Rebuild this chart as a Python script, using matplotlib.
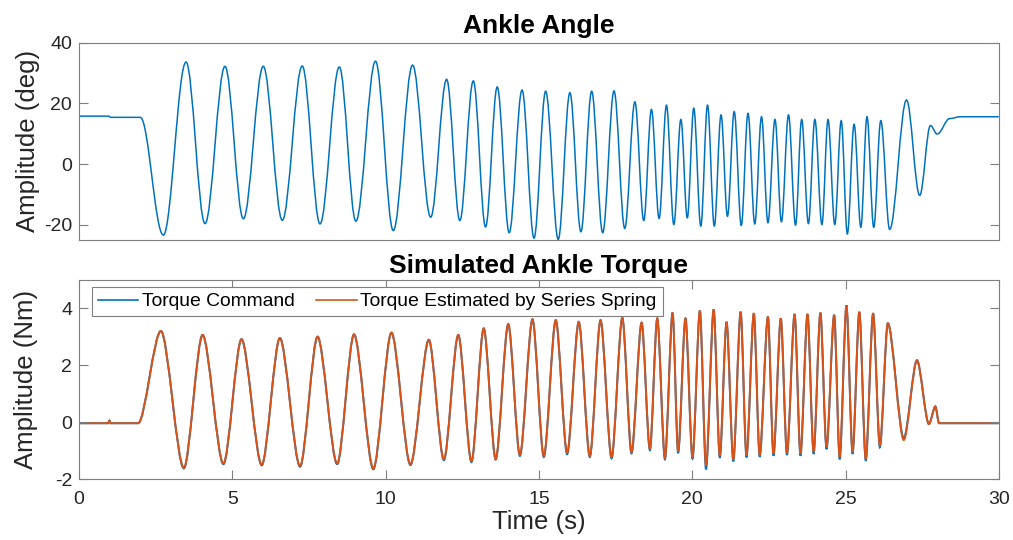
import matplotlib
matplotlib.use("Agg")
import matplotlib.pyplot as plt
from matplotlib.path import Path
from matplotlib.patches import PathPatch
from matplotlib.lines import Line2D

plt.rcParams['font.family'] = ['Liberation Sans', 'DejaVu Sans']
plt.rcParams['axes.unicode_minus'] = False

BLUE = "#0072BD"
ORANGE = "#D95319"
AXIS_GRAY = "#7f7f7f"
TEXT_GRAY = "#262626"

# ankle angle: turning points of the sweep (time in s, angle in deg)
angle_t = [0.0, 0.95, 1.05, 2.0, 2.75, 3.49, 4.11, 4.76, 5.36, 6.01, 6.63, 7.28,
           7.86, 8.49, 9.03, 9.67, 10.25, 10.88, 11.47, 11.99, 12.42, 12.86,
           13.26, 13.64, 14.03, 14.45, 14.84, 15.22, 15.63, 16.01, 16.37, 16.72,
           17.08, 17.45, 17.80, 18.13, 18.42, 18.67, 18.92, 19.16, 19.40, 19.63,
           19.84, 20.05, 20.28, 20.50, 20.72, 20.94, 21.15, 21.37, 21.60, 21.82,
           22.04, 22.26, 22.47, 22.70, 22.91, 23.14, 23.37, 23.57, 23.79, 24.00,
           24.23, 24.43, 24.65, 24.86, 25.06, 25.28, 25.50, 25.70, 25.92, 26.15,
           26.44, 26.99, 27.42, 27.77, 27.99, 28.40, 28.75, 30.0]
angle_deg = [15.8, 15.8, 15.4, 15.4, -23.4, 33.6, -19.6, 32.2, -18.0, 32.2, -18.5, 32.3,
             -19.7, 32.0, -18.8, 33.9, -21.9, 32.6, -17.5, 27.9, -18.6, 27.4,
             -20.7, 25.4, -22.6, 24.4, -24.4, 24.0, -24.8, 23.5, -22.3, 24.0,
             -22.6, 24.1, -21.2, 20.5, -18.6, 18.0, -17.9, 19.4, -19.9, 14.7,
             -17.7, 18.4, -20.4, 19.4, -20.4, 16.2, -17.2, 17.3, -20.2, 16.7,
             -19.7, 15.6, -19.3, 14.7, -19.0, 16.2, -20.1, 14.7, -19.6, 14.7,
             -19.9, 14.7, -19.9, 14.3, -23.0, 13.1, -20.8, 15.6, -20.8, 14.3,
             -21.5, 21.1, -10.3, 12.7, 9.9, 15.0, 15.6, 15.6]

# ankle torque: turning points shared by both torque traces (time in s)
torque_t = [0.0, 0.95, 0.99, 1.03, 1.93, 2.67, 3.42, 4.03, 4.71, 5.30, 5.96, 6.55,
            7.21, 7.78, 8.42, 8.97, 9.60, 10.19, 10.81, 11.41, 11.90, 12.37, 12.80,
            13.20, 13.59, 14.00, 14.38, 14.79, 15.16, 15.55, 15.92, 16.30, 16.66,
            17.01, 17.37, 17.72, 18.02, 18.35, 18.62, 18.86, 19.11, 19.36, 19.54,
            19.78, 20.01, 20.25, 20.45, 20.70, 20.90, 21.12, 21.34, 21.58, 21.77,
            22.01, 22.20, 22.47, 22.65, 22.89, 23.09, 23.34, 23.53, 23.76, 23.96,
            24.18, 24.38, 24.63, 24.81, 25.03, 25.23, 25.45, 25.66, 25.90, 26.12,
            26.38, 26.90, 27.33, 27.72, 27.93, 28.05, 30.0]
torque_cmd = [-0.03, -0.03, 0.06, -0.03, -0.03, 3.21, -1.62, 3.07, -1.47, 2.92, -1.51, 2.96,
              -1.56, 3.01, -1.47, 3.09, -1.65, 3.15, -1.50, 2.90, -1.33, 3.07, -1.40,
              3.30, -1.31, 3.45, -1.18, 3.62, -1.22, 3.59, -1.12, 3.53, -1.22,
              3.59, -1.27, 3.67, -1.09, 3.50, -0.98, 3.65, -1.30, 3.85, -1.08,
              3.65, -1.28, 3.92, -1.65, 3.96, -1.25, 3.53, -1.37, 3.88, -1.23,
              3.83, -1.21, 3.71, -1.17, 3.65, -1.14, 3.80, -1.17, 3.80, -1.11,
              3.85, -0.94, 3.77, -1.30, 4.11, -1.11, 3.88, -1.35, 3.83, -0.88,
              3.48, -0.55, 2.18, -0.06, 0.56, -0.03, -0.03]
torque_est = [-0.03, -0.03, 0.06, -0.03, -0.03, 3.21, -1.60, 3.07, -1.45, 2.92, -1.49, 2.96,
              -1.53, 3.01, -1.45, 3.09, -1.62, 3.15, -1.47, 2.90, -1.30, 3.07, -1.37,
              3.30, -1.28, 3.45, -1.14, 3.62, -1.18, 3.59, -1.07, 3.53, -1.18,
              3.59, -1.22, 3.67, -1.04, 3.50, -0.93, 3.65, -1.25, 3.85, -1.02,
              3.65, -1.22, 3.92, -1.52, 3.96, -1.18, 3.53, -1.30, 3.88, -1.16,
              3.83, -1.14, 3.71, -1.10, 3.65, -1.07, 3.80, -1.10, 3.80, -1.04,
              3.85, -0.87, 3.77, -1.22, 4.11, -1.04, 3.88, -1.28, 3.83, -0.81,
              3.48, -0.62, 2.18, -0.06, 0.56, -0.03, -0.03]


def sweep_path(t, y, k):
    # cubic bezier between turning points, flat tangent at each one
    verts = [(t[0], y[0])]
    codes = [Path.MOVETO]
    for i in range(len(t) - 1):
        dt = t[i + 1] - t[i]
        verts += [(t[i] + k * dt, y[i]), (t[i + 1] - k * dt, y[i + 1]), (t[i + 1], y[i + 1])]
        codes += [Path.CURVE4] * 3
    return Path(verts, codes)


def style_axes(ax):
    for s in ax.spines.values():
        s.set_color(AXIS_GRAY)
        s.set_linewidth(0.8)
    ax.tick_params(direction="in", length=6.5, width=0.8, color=AXIS_GRAY,
                   labelcolor=TEXT_GRAY, labelsize=14, left=True, right=True)
    ax.tick_params(axis="y", pad=5)
    ax.tick_params(axis="x", pad=8.5)


fig = plt.figure(figsize=(10.13, 5.4), dpi=100)
ax1 = fig.add_axes([0.078, 0.5556, 0.908, 0.3654])
ax2 = fig.add_axes([0.078, 0.1124, 0.908, 0.3691])

# top: ankle angle
ax1.add_patch(PathPatch(sweep_path(angle_t, angle_deg, 0.36), fill=False,
                        edgecolor=BLUE, lw=1.1, transform=ax1.transData))
ax1.set_xlim(0, 30)
ax1.set_ylim(-25, 40)
ax1.set_yticks([-20, 0, 20, 40])
ax1.set_xticks([])
style_axes(ax1)
ax1.set_ylabel("Amplitude (deg)", fontsize=18.5, color=TEXT_GRAY, labelpad=3)
ax1.set_title("Ankle Angle", fontsize=19, fontweight="bold", pad=7)

# bottom: commanded vs estimated torque
ax2.add_patch(PathPatch(sweep_path(torque_t, torque_cmd, 0.3), fill=False,
                        edgecolor=BLUE, lw=1.4, transform=ax2.transData))
ax2.add_patch(PathPatch(sweep_path(torque_t, torque_est, 0.3), fill=False,
                        edgecolor=ORANGE, lw=1.4, transform=ax2.transData))
ax2.set_xlim(0, 30)
ax2.set_ylim(-2, 5)
ax2.set_xticks(range(0, 31, 5))
ax2.set_yticks([-2, 0, 2, 4])
style_axes(ax2)
ax2.tick_params(axis="x", top=True, bottom=True)
ax2.set_xlabel("Time (s)", fontsize=18.5, color=TEXT_GRAY, labelpad=1.5)
ax2.set_ylabel("Amplitude (Nm)", fontsize=18.5, color=TEXT_GRAY, labelpad=12)
ax2.set_title("Simulated Ankle Torque", fontsize=19, fontweight="bold", pad=5)

handles = [Line2D([], [], color=BLUE, lw=1.2, label="Torque Command"),
           Line2D([], [], color=ORANGE, lw=1.2, label="Torque Estimated by Series Spring")]
leg = ax2.legend(handles=handles, loc="upper left", bbox_to_anchor=(0.014, 0.965),
                 borderaxespad=0, ncol=2, fontsize=13.9, handlelength=2.1,
                 handletextpad=0.2, columnspacing=1.1, borderpad=0.3,
                 fancybox=False, framealpha=1, edgecolor=AXIS_GRAY)
leg.get_frame().set_linewidth(0.8)

fig.savefig("out.png", dpi=100)
